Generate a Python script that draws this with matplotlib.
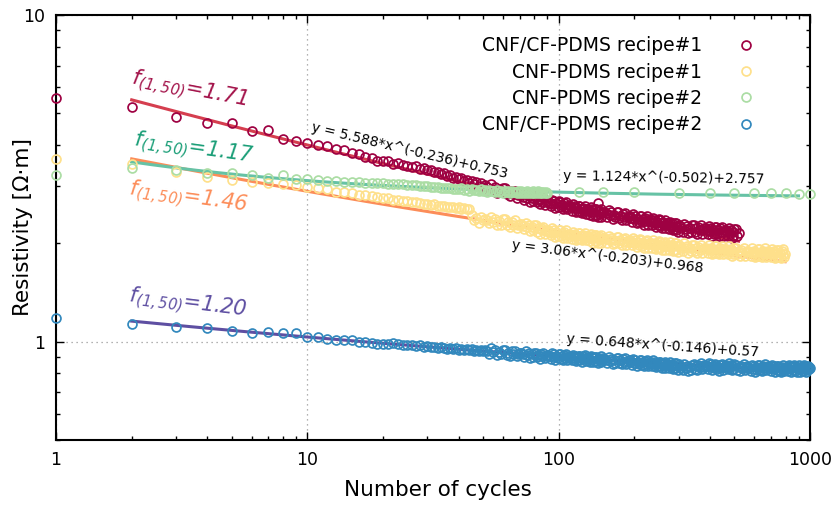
import numpy as np
import matplotlib
matplotlib.use("Agg")
import matplotlib.pyplot as plt
from matplotlib.ticker import LogLocator, FuncFormatter, NullFormatter

plt.rcParams['font.family'] = ['DejaVu Sans']
plt.rcParams['mathtext.fontset'] = 'custom'
plt.rcParams['mathtext.rm'] = 'DejaVu Sans:italic'
plt.rcParams['mathtext.it'] = 'DejaVu Sans:italic'

# logged cycles: every cycle at first, then every 2nd, 4th, 6th
cycles = np.r_[1:151, 152:301:2, 304:501:4, 508:1001:6]
cnf2_cycles = np.r_[1:91, [120, 150, 200, 300, 400, 500, 600, 700, 800, 900, 1000]]

# resistivity [Ohm m]
cfcf1 = [5.57, 5.24, 4.88, 4.67, 4.67, 4.42, 4.45, 4.17, 4.12, 4.06,
         4.00, 3.96, 3.88, 3.86, 3.77, 3.74, 3.67, 3.65, 3.58, 3.57,
         3.57, 3.51, 3.52, 3.47, 3.46, 3.43, 3.44, 3.37, 3.40, 3.35,
         3.35, 3.30, 3.31, 3.26, 3.29, 3.22, 3.24, 3.18, 3.20, 3.14,
         3.17, 3.10, 3.12, 3.06, 3.11, 3.03, 3.08, 2.99, 3.05, 2.97,
         3.02, 2.98, 2.91, 3.03, 2.94, 2.98, 2.86, 2.93, 2.87, 2.96,
         2.95, 2.84, 2.88, 2.79, 2.89, 2.83, 2.90, 2.76, 2.81, 2.83,
         2.82, 2.78, 2.72, 2.84, 2.75, 2.80, 2.68, 2.75, 2.70, 2.79,
         2.78, 2.67, 2.72, 2.63, 2.74, 2.68, 2.76, 2.62, 2.68, 2.70,
         2.70, 2.66, 2.60, 2.72, 2.64, 2.69, 2.57, 2.65, 2.59, 2.69,
         2.68, 2.58, 2.62, 2.54, 2.65, 2.59, 2.67, 2.54, 2.59, 2.62,
         2.61, 2.58, 2.51, 2.64, 2.56, 2.60, 2.49, 2.57, 2.51, 2.61,
         2.61, 2.50, 2.55, 2.47, 2.57, 2.52, 2.60, 2.46, 2.52, 2.55,
         2.55, 2.51, 2.45, 2.58, 2.49, 2.54, 2.43, 2.50, 2.45, 2.55,
         2.55, 2.44, 2.66, 2.41, 2.52, 2.46, 2.54, 2.41, 2.47, 2.49,
         2.50, 2.47, 2.40, 2.53, 2.44, 2.49, 2.38, 2.45, 2.40, 2.50,
         2.49, 2.39, 2.43, 2.35, 2.46, 2.40, 2.48, 2.35, 2.40, 2.43,
         2.43, 2.39, 2.33, 2.46, 2.37, 2.42, 2.31, 2.38, 2.33, 2.43,
         2.42, 2.32, 2.37, 2.28, 2.39, 2.34, 2.42, 2.28, 2.34, 2.37,
         2.36, 2.33, 2.27, 2.39, 2.31, 2.36, 2.25, 2.32, 2.27, 2.37,
         2.36, 2.26, 2.31, 2.22, 2.33, 2.28, 2.36, 2.22, 2.28, 2.31,
         2.30, 2.27, 2.21, 2.33, 2.25, 2.30, 2.19, 2.26, 2.21, 2.31,
         2.30, 2.20, 2.25, 2.16, 2.27,
         2.26, 2.23, 2.17, 2.29, 2.21, 2.26, 2.15, 2.22, 2.17, 2.27,
         2.27, 2.17, 2.22, 2.14, 2.24, 2.19, 2.27, 2.14, 2.20, 2.23,
         2.22, 2.19, 2.13, 2.26, 2.18, 2.23, 2.11, 2.19, 2.14, 2.24,
         2.24, 2.14, 2.19, 2.11, 2.22, 2.17, 2.24, 2.11, 2.17, 2.20,
         2.19, 2.16, 2.10, 2.23, 2.15, 2.19, 2.08, 2.16, 2.11, 2.21,
         2.21, 2.10, 2.15]

cnf1 = [3.63, 3.50, 3.30, 3.20, 3.13, 3.09, 3.06, 3.03, 3.01, 2.98,
        2.95, 2.93, 2.88, 2.87, 2.85, 2.82, 2.81, 2.79, 2.77, 2.76,
        2.75, 2.72, 2.71, 2.70, 2.69, 2.67, 2.67, 2.66, 2.64, 2.64,
        2.62, 2.63, 2.61, 2.60, 2.61, 2.59, 2.58, 2.59, 2.57, 2.58,
        2.55, 2.56, 2.54, 2.55,
        2.45, 2.35, 2.39, 2.31, 2.40, 2.35,
        2.38, 2.35, 2.30, 2.41, 2.33, 2.37, 2.27, 2.34, 2.28, 2.37,
        2.37, 2.27, 2.32, 2.24, 2.33, 2.28, 2.35, 2.23, 2.28, 2.29,
        2.29, 2.26, 2.21, 2.31, 2.24, 2.27, 2.18, 2.24, 2.19, 2.27,
        2.27, 2.17, 2.22, 2.14, 2.23, 2.19, 2.25, 2.14, 2.18, 2.20,
        2.20, 2.17, 2.12, 2.22, 2.15, 2.19, 2.09, 2.16, 2.10, 2.19,
        2.19, 2.10, 2.15, 2.07, 2.16, 2.12, 2.19, 2.07, 2.12, 2.14,
        2.14, 2.12, 2.06, 2.17, 2.10, 2.14, 2.04, 2.11, 2.06, 2.15,
        2.15, 2.06, 2.11, 2.04, 2.12, 2.08, 2.15, 2.04, 2.09, 2.11,
        2.10, 2.08, 2.03, 2.14, 2.07, 2.11, 2.01, 2.08, 2.03, 2.12,
        2.12, 2.03, 2.08, 2.01, 2.10, 2.06, 2.12, 2.01, 2.06, 2.08,
        2.08, 2.06, 2.01, 2.11, 2.04, 2.08, 1.99, 2.05, 2.00, 2.09,
        2.09, 2.00, 2.05, 1.97, 2.06, 2.02, 2.08, 1.97, 2.02, 2.04,
        2.04, 2.02, 1.97, 2.08, 2.01, 2.04, 1.95, 2.02, 1.97, 2.06,
        2.05, 1.96, 2.01, 1.94, 2.03, 1.99, 2.05, 1.94, 1.99, 2.01,
        2.01, 1.99, 1.94, 2.05, 1.98, 2.01, 1.92, 1.99, 1.94, 2.03,
        2.02, 1.93, 1.98, 1.91, 2.00, 1.96, 2.02, 1.91, 1.96, 1.98,
        1.98, 1.96, 1.91, 2.02, 1.95, 1.98, 1.89, 1.96, 1.91, 2.00,
        2.00, 1.91, 1.96, 1.88, 1.97,
        1.96, 1.94, 1.89, 2.00, 1.93, 1.96, 1.87, 1.94, 1.89, 1.98,
        1.98, 1.89, 1.94, 1.87, 1.95, 1.91, 1.98, 1.87, 1.92, 1.94,
        1.94, 1.92, 1.87, 1.98, 1.91, 1.94, 1.85, 1.92, 1.87, 1.96,
        1.96, 1.87, 1.92, 1.85, 1.93, 1.89, 1.96, 1.85, 1.90, 1.92,
        1.92, 1.90, 1.85, 1.96, 1.89, 1.92, 1.83, 1.90, 1.85, 1.94,
        1.94, 1.85, 1.90, 1.83, 1.91, 1.87, 1.94, 1.83, 1.88, 1.90,
        1.90, 1.88, 1.83, 1.94, 1.87, 1.90, 1.81, 1.88, 1.83, 1.92,
        1.92, 1.83, 1.88, 1.81, 1.90, 1.86, 1.93, 1.82, 1.87, 1.89,
        1.88, 1.86, 1.81, 1.92, 1.85, 1.89, 1.80, 1.87, 1.82, 1.91,
        1.91, 1.82, 1.87, 1.80, 1.89, 1.85, 1.92, 1.81, 1.86]

cnf2 = [3.24, 3.41, 3.36, 3.28, 3.28, 3.24, 3.18, 3.23, 3.15, 3.14,
        3.12, 3.11, 3.10, 3.09, 3.08, 3.08, 3.06, 3.06, 3.05, 3.05,
        3.04, 3.04, 3.03, 3.03, 3.02, 3.01, 3.01, 3.00, 2.99, 2.99,
        2.98, 2.97, 2.97, 2.96, 2.96, 2.95, 2.95, 2.94, 2.94, 2.93,
        2.95, 2.91, 2.93, 2.90, 2.94, 2.91, 2.92, 2.89, 2.93, 2.90,
        2.91, 2.88, 2.92, 2.89, 2.90, 2.87, 2.91, 2.88, 2.90, 2.86,
        2.90, 2.87, 2.89, 2.86, 2.90, 2.87, 2.88, 2.85, 2.89, 2.86,
        2.89, 2.86, 2.88, 2.85, 2.89, 2.86, 2.88, 2.85, 2.89, 2.86,
        2.88, 2.85, 2.89, 2.86, 2.88, 2.85, 2.88, 2.86, 2.88, 2.85,
        2.87, 2.87, 2.87, 2.86, 2.86, 2.86, 2.86, 2.86, 2.86, 2.84, 2.84]

cfcf2 = [1.18, 1.135, 1.11, 1.10, 1.08, 1.065, 1.07, 1.065, 1.06, 1.035,
         1.03, 1.02, 1.01, 1.01, 1.01, 1.00, 0.995, 0.99, 0.985, 0.985,
         0.985, 0.99, 0.985, 0.98, 0.975, 0.98, 0.97, 0.975, 0.965, 0.97,
         0.96, 0.965, 0.955, 0.96, 0.955, 0.95, 0.958, 0.948, 0.955, 0.945,
         0.952, 0.942, 0.95, 0.94, 0.948, 0.938, 0.946, 0.935, 0.944, 0.933,
         0.945, 0.936, 0.918, 0.953, 0.928, 0.943, 0.909, 0.932, 0.915, 0.941,
         0.94, 0.911, 0.926, 0.902, 0.933, 0.916, 0.939, 0.903, 0.918, 0.925,
         0.924, 0.915, 0.899, 0.934, 0.909, 0.925, 0.892, 0.915, 0.899, 0.926,
         0.925, 0.896, 0.912, 0.887, 0.919, 0.902, 0.926, 0.89, 0.905, 0.912,
         0.912, 0.903, 0.887, 0.922, 0.898, 0.914, 0.881, 0.904, 0.888, 0.915,
         0.915, 0.887, 0.902, 0.878, 0.909, 0.893, 0.917, 0.88, 0.896, 0.903,
         0.902, 0.894, 0.877, 0.913, 0.889, 0.904, 0.871, 0.895, 0.879, 0.906,
         0.906, 0.878, 0.893, 0.869, 0.901, 0.885, 0.908, 0.872, 0.887, 0.895,
         0.894, 0.886, 0.869, 0.905, 0.881, 0.896, 0.864, 0.888, 0.871, 0.899,
         0.899, 0.871, 0.886, 0.862, 0.894, 0.877, 0.901, 0.865, 0.88, 0.888,
         0.887, 0.879, 0.862, 0.897, 0.873, 0.884, 0.856, 0.88, 0.863, 0.89,
         0.889, 0.861, 0.876, 0.852, 0.883, 0.866, 0.888, 0.853, 0.868, 0.876,
         0.876, 0.867, 0.851, 0.886, 0.862, 0.877, 0.845, 0.868, 0.852, 0.879,
         0.878, 0.85, 0.865, 0.841, 0.872, 0.856, 0.879, 0.843, 0.858, 0.866,
         0.865, 0.857, 0.84, 0.876, 0.852, 0.867, 0.834, 0.858, 0.842, 0.869,
         0.868, 0.84, 0.855, 0.831, 0.862, 0.845, 0.868, 0.833, 0.848, 0.856,
         0.855, 0.847, 0.83, 0.866, 0.842, 0.856, 0.824, 0.848, 0.831, 0.859,
         0.858, 0.83, 0.845, 0.821, 0.852,
         0.841, 0.833, 0.817, 0.853, 0.829, 0.845, 0.813, 0.837, 0.821, 0.849,
         0.854, 0.826, 0.842, 0.818, 0.85, 0.834, 0.858, 0.822, 0.838, 0.846,
         0.848, 0.84, 0.824, 0.86, 0.836, 0.852, 0.82, 0.844, 0.828, 0.856,
         0.851, 0.823, 0.839, 0.815, 0.847, 0.831, 0.855, 0.819, 0.835, 0.843,
         0.846, 0.838, 0.822, 0.858, 0.834, 0.85, 0.818, 0.842, 0.826, 0.854,
         0.849, 0.821, 0.837, 0.813, 0.845, 0.829, 0.853, 0.817, 0.833, 0.841,
         0.838, 0.83, 0.814, 0.85, 0.826, 0.842, 0.81, 0.834, 0.818, 0.846,
         0.848, 0.82, 0.836, 0.812, 0.844, 0.828, 0.852, 0.816, 0.832, 0.84,
         0.837, 0.829, 0.813, 0.849, 0.825, 0.841, 0.809, 0.833, 0.817, 0.845,
         0.843, 0.815, 0.831, 0.807, 0.839, 0.823, 0.847, 0.811, 0.827, 0.835,
         0.838, 0.83, 0.814, 0.85, 0.826, 0.842, 0.81, 0.834, 0.818, 0.846,
         0.842, 0.814, 0.83, 0.806, 0.838, 0.822, 0.846, 0.81, 0.826, 0.834,
         0.836, 0.828, 0.812, 0.848, 0.824, 0.84, 0.808, 0.832, 0.816, 0.844,
         0.834, 0.822, 0.828]

names = ['CNF/CF-PDMS recipe#1', 'CNF-PDMS recipe#1', 'CNF-PDMS recipe#2', 'CNF/CF-PDMS recipe#2']

# power-law fits y = a*x^b + c, drawn from cycle 2
fit_cfcf1 = [5.588, -0.236, 0.753]
fit_cnf1 = [3.06, -0.203, 0.968]
fit_cnf2 = [1.124, -0.502, 2.757]
fit_cfcf2 = [0.648, -0.146, 0.57]
fit_end = [520, 796, 900, 1000]

f_values = ['1.71', '1.46', '1.17', '1.20']

marker_colors = ['#9e0142', '#fee08b', '#abdda4', '#3288bd']
fit_colors = ['#d53e4f', '#fc8d59', '#66c2a5', '#5e4fa2']
f_colors = ['#a3134a', '#fc8d59', '#1a9e77', '#5e4fa2']

fig = plt.figure(figsize=(8.4, 5.11), dpi=100)
ax = fig.add_axes([0.0667, 0.139, 0.8976, 0.8317])

xs = [cycles[:len(cfcf1)], cycles[:len(cnf1)], cnf2_cycles, cycles[:len(cfcf2)]]
ys = [cfcf1, cnf1, cnf2, cfcf2]
fits = [fit_cfcf1, fit_cnf1, fit_cnf2, fit_cfcf2]

for fit, end, col in zip(fits, fit_end, fit_colors):
    a, b, c = fit
    xf = np.geomspace(2, end, 300)
    ax.plot(xf, a * xf ** b + c, color=col, lw=2.2, zorder=2)

for x, y, col, name in zip(xs, ys, marker_colors, names):
    ax.plot(x, y, 'o', mfc='none', mec=col, ms=6.4, mew=1.25, ls='none',
            label=name, zorder=3, clip_on=False)

ax.set_xscale('log')
ax.set_yscale('log')
ax.set_xlim(1, 1000)
ax.set_ylim(0.5, 10)

fmt = FuncFormatter(lambda v, p: f'{v:g}')
for axis in (ax.xaxis, ax.yaxis):
    axis.set_major_locator(LogLocator(base=10))
    axis.set_minor_locator(LogLocator(base=10, subs=range(2, 10)))
    axis.set_major_formatter(fmt)
    axis.set_minor_formatter(NullFormatter())

ax.tick_params(which='both', direction='in', top=True, right=True, width=1.0)
ax.tick_params(which='major', length=5.8, labelsize=12.5, pad=8)
ax.tick_params(which='minor', length=2.9)
for s in ax.spines.values():
    s.set_linewidth(1.5)

ax.set_axisbelow(True)
ax.grid(True, which='major', ls=(0, (1, 3)), color='#999999', lw=0.9)

ax.set_xlabel('Number of cycles', fontsize=15.5)
ax.set_ylabel('Resistivity [Ω·m]', fontsize=15.5)
ax.xaxis.set_label_coords(0.507, -0.095)
ax.yaxis.set_label_coords(-0.03, 0.5)

# f(1,50) labels next to the early part of each fit
f_pos = [(3.4, 5.9, -11), (3.36, 2.74, -8), (3.52, 3.87, -8), (3.33, 1.30, -7)]
for (px, py, rot), val, col in zip(f_pos, f_values, f_colors):
    ax.text(px, py, r'$f_{(1,50)}$=' + val, color=col, fontsize=15, style='italic',
            rotation=rot, rotation_mode='anchor', ha='center', va='center')

# fit equations
eq_pos = [(25.6, 3.84, -13.5), (156, 1.82, -7), (261, 3.17, -1), (259, 0.972, -4)]
for (px, py, rot), (a, b, c) in zip(eq_pos, fits):
    ax.text(px, py, f'y = {a:g}*x^({b:g})+{c:g}', fontsize=10, rotation=rot,
            rotation_mode='anchor', ha='center', va='center', color='black')

leg = ax.legend(loc='upper right', bbox_to_anchor=(0.927, 0.95), markerfirst=False,
                frameon=False, fontsize=13.5, handlelength=1.0, handletextpad=1.8,
                labelspacing=0.39, borderpad=0, borderaxespad=0)

fig.savefig('out.png', dpi=100)
